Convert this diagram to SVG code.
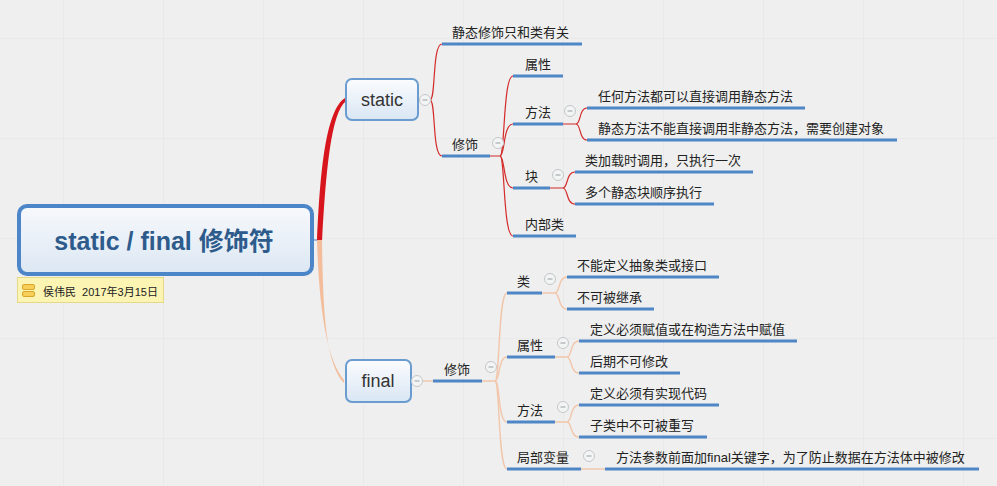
<svg xmlns="http://www.w3.org/2000/svg" width="997" height="486" viewBox="0 0 997 486">
<defs>
<pattern id="grid" x="63" y="38" width="100" height="100" patternUnits="userSpaceOnUse">
<path d="M0,0 H100 M0,0 V100" stroke="#e7e8e7" stroke-width="1.5" fill="none"/>
</pattern>
<linearGradient id="rootg" x1="0" y1="0" x2="0" y2="1">
<stop offset="0" stop-color="#f7f9fc"/>
<stop offset="1" stop-color="#dce7f3"/>
</linearGradient>
<linearGradient id="nodeg" x1="0" y1="0" x2="0" y2="1">
<stop offset="0" stop-color="#fbfcfe"/>
<stop offset="1" stop-color="#d9e6f4"/>
</linearGradient>
<g id="col">
<circle r="5.5" fill="#f3f4f4" stroke="#c4c7ca" stroke-width="1"/>
<path d="M-2.5,0 H2.5" stroke="#a9adb2" stroke-width="1.2"/>
</g>
</defs>
<style>
text{font-family:"Liberation Sans","Noto Sans CJK SC",sans-serif;fill:#222;font-size:13px}
.ul{stroke:#4f86c6;stroke-width:3;fill:none}
.red{stroke:#d42a2a;stroke-width:1.2;fill:none}
.pea{stroke:#f2c6ab;stroke-width:1.4;fill:none}
.node{fill:url(#nodeg);stroke:#6a9ccf;stroke-width:2}
.nt{font-size:18px;fill:#333;text-anchor:middle}
</style>
<rect width="997" height="486" fill="#eeefee"/>
<rect width="997" height="486" fill="url(#grid)"/>

<g id="connectors">
<path d="M313,240 H320" stroke="#7ea6d2" stroke-width="1.5"/>
<path d="M317,242 C320,170 326,110 345,98 L346,101 C331,113 326,170 322,242 Z" fill="#d8141c"/>
<path d="M317,240 C319,310 327,360 344,380 L344,383 C325,363 323,310 322,240 Z" fill="#f3bd9c"/>
<path class="red" d="M430,100 C436,100 432,44 442,44"/>
<path class="red" d="M430,100 C436,100 432,156 442,156"/>
<path class="red" d="M490,156 H500 C505,156 503,76 513,76"/>
<path class="red" d="M500,156 C505,156 503,124 513,124"/>
<path class="red" d="M500,156 C505,156 503,188 513,188"/>
<path class="red" d="M500,156 C505,156 503,236 513,236"/>
<path class="red" d="M563,124 H576 C581,124 579,108 587,108"/>
<path class="red" d="M576,124 C581,124 579,140 587,140"/>
<path class="red" d="M550,188 H563 C568,188 566,172 575,172"/>
<path class="red" d="M563,188 C568,188 566,204 575,204"/>
<path class="pea" d="M422,381 H433"/>
<path class="pea" d="M482,381 H495 C500,381 498,293 507,293"/>
<path class="pea" d="M495,381 C500,381 498,357 507,357"/>
<path class="pea" d="M495,381 C500,381 498,422 507,422"/>
<path class="pea" d="M495,381 C500,381 498,469 507,469"/>
<path class="pea" d="M542,293 H555 C560,293 558,277 567,277"/>
<path class="pea" d="M555,293 C560,293 558,309 567,309"/>
<path class="pea" d="M555,357 H567 C572,357 570,341 579,341"/>
<path class="pea" d="M567,357 C572,357 570,373 579,373"/>
<path class="pea" d="M555,422 H567 C572,422 570,405 579,405"/>
<path class="pea" d="M567,422 C572,422 570,437 579,437"/>
<path class="pea" d="M581,469 H605"/>
</g>

<g id="root">
<rect x="19" y="206" width="293" height="68" rx="8" fill="url(#rootg)" stroke="#4c86c8" stroke-width="4"/>
<text x="164" y="250" text-anchor="middle" style="font-size:25px;font-weight:bold;fill:#2d5b8c">static / final 修饰符</text>
</g>
<g id="note">
<rect x="17.5" y="277.5" width="146" height="25" fill="#fbf4b3" stroke="#e5d888"/>
<rect x="22.5" y="284.5" width="12" height="5" rx="1.5" fill="#f7cf58" stroke="#d8a62a"/>
<rect x="22.5" y="291.5" width="12" height="5" rx="1.5" fill="#f7cf58" stroke="#d8a62a"/>
<text x="43" y="296" style="font-size:11px">侯伟民&#160;&#160;2017年3月15日</text>
</g>

<g id="static">
<rect class="node" x="346" y="79" width="72" height="41" rx="6"/>
<text class="nt" x="382" y="106">static</text>
<use href="#col" x="425" y="100"/>
</g>
<g id="s-only"><text x="452" y="37">静态修饰只和类有关</text><path class="ul" d="M442,44 H582"/></g>
<g id="s-mod"><text x="452" y="149">修饰</text><path class="ul" d="M442,156 H490"/><use href="#col" x="498" y="143"/></g>
<g id="s-attr"><text x="525" y="69">属性</text><path class="ul" d="M513,76 H563"/></g>
<g id="s-method"><text x="525" y="117">方法</text><path class="ul" d="M513,124 H563"/><use href="#col" x="570" y="111"/></g>
<g id="s-m1"><text x="598" y="101">任何方法都可以直接调用静态方法</text><path class="ul" d="M587,108 H805"/></g>
<g id="s-m2"><text x="598" y="133">静态方法不能直接调用非静态方法，需要创建对象</text><path class="ul" d="M587,140 H897"/></g>
<g id="s-block"><text x="525" y="181">块</text><path class="ul" d="M513,188 H550"/><use href="#col" x="558" y="175"/></g>
<g id="s-b1"><text x="585" y="165">类加载时调用，只执行一次</text><path class="ul" d="M575,172 H753"/></g>
<g id="s-b2"><text x="585" y="197">多个静态块顺序执行</text><path class="ul" d="M575,204 H714"/></g>
<g id="s-inner"><text x="525" y="229">内部类</text><path class="ul" d="M513,236 H576"/></g>

<g id="final">
<rect class="node" x="346" y="360" width="65" height="42" rx="6"/>
<text class="nt" x="378" y="387">final</text>
<use href="#col" x="417" y="381"/>
</g>
<g id="f-mod"><text x="444" y="374">修饰</text><path class="ul" d="M433,381 H482"/><use href="#col" x="491" y="367"/></g>
<g id="f-class"><text x="517" y="286">类</text><path class="ul" d="M507,293 H542"/><use href="#col" x="550" y="279"/></g>
<g id="f-c1"><text x="577" y="270">不能定义抽象类或接口</text><path class="ul" d="M567,277 H719"/></g>
<g id="f-c2"><text x="577" y="302">不可被继承</text><path class="ul" d="M567,309 H654"/></g>
<g id="f-attr"><text x="517" y="350">属性</text><path class="ul" d="M507,357 H555"/><use href="#col" x="563" y="343"/></g>
<g id="f-a1"><text x="590" y="334">定义必须赋值或在构造方法中赋值</text><path class="ul" d="M579,341 H797"/></g>
<g id="f-a2"><text x="590" y="366">后期不可修改</text><path class="ul" d="M579,373 H680"/></g>
<g id="f-method"><text x="517" y="415">方法</text><path class="ul" d="M507,422 H555"/><use href="#col" x="563" y="407"/></g>
<g id="f-m1"><text x="590" y="398">定义必须有实现代码</text><path class="ul" d="M579,405 H719"/></g>
<g id="f-m2"><text x="590" y="430">子类中不可被重写</text><path class="ul" d="M579,437 H707"/></g>
<g id="f-local"><text x="517" y="462">局部变量</text><path class="ul" d="M507,469 H581"/><use href="#col" x="589" y="456"/></g>
<g id="f-l1"><text x="616" y="462">方法参数前面加final关键字，为了防止数据在方法体中被修改</text><path class="ul" d="M605,469 H979"/></g>
</svg>
